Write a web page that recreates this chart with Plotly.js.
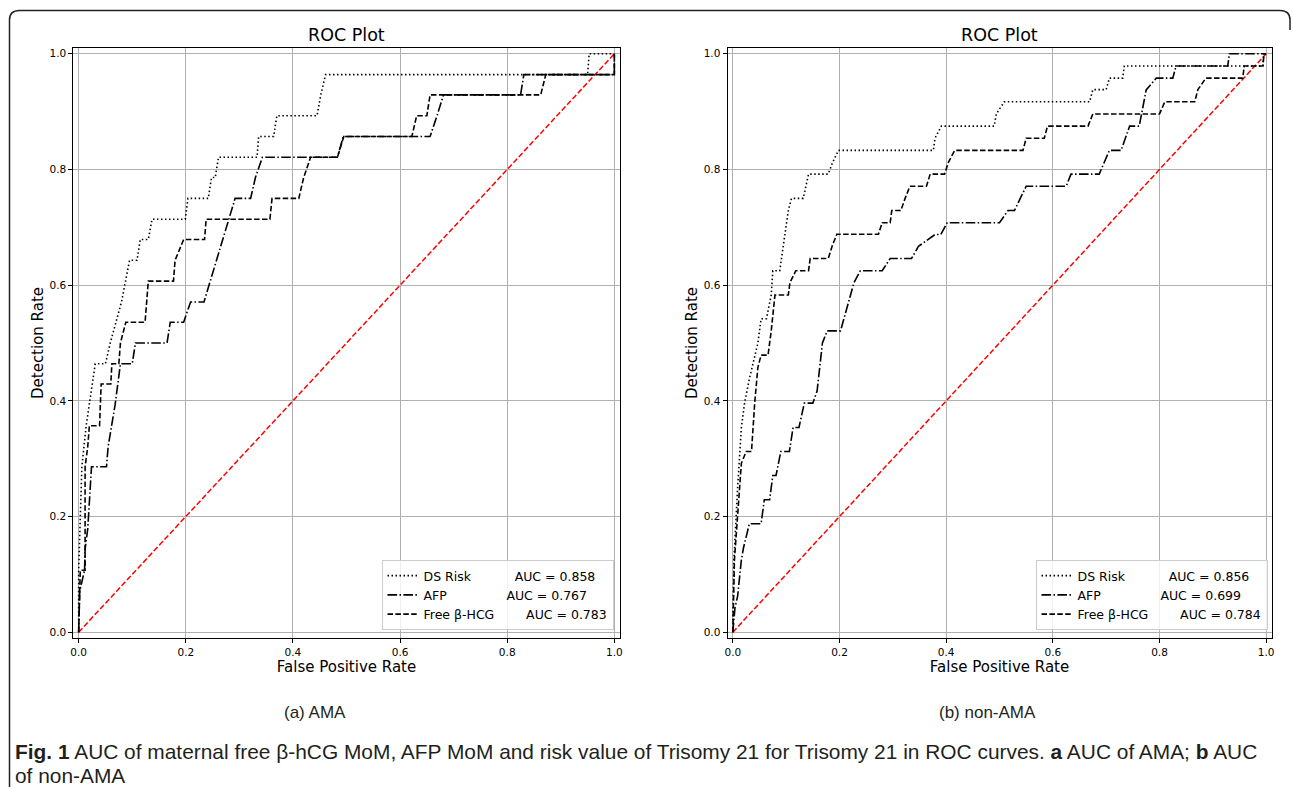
<!DOCTYPE html>
<html>
<head>
<meta charset="utf-8">
<script src="https://cdn.plot.ly/plotly-3.0.1.min.js"></script>
<style>
html,body{margin:0;padding:0;background:#ffffff;}
#chart{width:1292px;height:789px;}
</style>
</head>
<body>
<div id="chart"></div>
<script>
// ---------------- data ----------------
const seriesNames = ["DS Risk", "AFP", "Free β-HCG"];
const tickValues = [0, 0.2, 0.4, 0.6, 0.8, 1.0];
const tickLabels = ["0.0", "0.2", "0.4", "0.6", "0.8", "1.0"];
const panelLabels = ["(a) AMA", "(b) non-AMA"];
const aucAMA = ["0.858", "0.767", "0.783"];
const aucNonAMA = ["0.856", "0.699", "0.784"];
const chanceLine = [0, 1];

// (a) AMA
const amaDsFpr = [0, 0, 0.006, 0.014, 0.031, 0.050, 0.059, 0.080, 0.095, 0.109, 0.115, 0.130, 0.137, 0.199, 0.204, 0.242, 0.248, 0.255, 0.261, 0.333, 0.336, 0.364, 0.370, 0.445, 0.452, 0.461, 0.950, 0.953, 1.0];
const amaDsTpr = [0, 0.107, 0.286, 0.357, 0.464, 0.464, 0.500, 0.571, 0.643, 0.643, 0.679, 0.679, 0.714, 0.714, 0.750, 0.750, 0.786, 0.786, 0.821, 0.821, 0.857, 0.857, 0.893, 0.893, 0.929, 0.964, 0.964, 1.0, 1.0];

const amaAfpFpr = [0, 0.002, 0.011, 0.012, 0.017, 0.024, 0.052, 0.055, 0.068, 0.078, 0.100, 0.106, 0.165, 0.171, 0.196, 0.209, 0.234, 0.292, 0.321, 0.330, 0.343, 0.483, 0.494, 0.656, 0.669, 0.681, 0.825, 0.831, 1.0, 1.0];
const amaAfpTpr = [0, 0.071, 0.107, 0.143, 0.179, 0.286, 0.286, 0.321, 0.393, 0.464, 0.464, 0.500, 0.500, 0.536, 0.536, 0.571, 0.571, 0.750, 0.750, 0.786, 0.821, 0.821, 0.857, 0.857, 0.893, 0.929, 0.929, 0.964, 0.964, 1.0];

const amaHcgFpr = [0, 0.002, 0.003, 0.012, 0.012, 0.017, 0.020, 0.039, 0.042, 0.060, 0.062, 0.075, 0.078, 0.088, 0.124, 0.130, 0.177, 0.180, 0.196, 0.235, 0.238, 0.357, 0.361, 0.411, 0.420, 0.433, 0.483, 0.495, 0.622, 0.631, 0.650, 0.656, 0.8625, 0.872, 1.0, 1.0];
const amaHcgTpr = [0, 0.060, 0.107, 0.107, 0.286, 0.321, 0.357, 0.357, 0.429, 0.429, 0.464, 0.464, 0.500, 0.536, 0.536, 0.607, 0.607, 0.643, 0.679, 0.679, 0.714, 0.714, 0.750, 0.750, 0.786, 0.821, 0.821, 0.857, 0.857, 0.893, 0.893, 0.929, 0.929, 0.964, 0.964, 1.0];

// (b) non-AMA
const nonDsFpr = [0, 0.002, 0.009, 0.016, 0.022, 0.031, 0.047, 0.053, 0.063, 0.072, 0.075, 0.088, 0.104, 0.110, 0.132, 0.142, 0.179, 0.187, 0.198, 0.376, 0.379, 0.391, 0.490, 0.494, 0.509, 0.669, 0.675, 0.700, 0.706, 0.731, 0.734, 0.994, 0.995, 1.0];
const nonDsTpr = [0, 0.125, 0.250, 0.354, 0.396, 0.438, 0.500, 0.542, 0.542, 0.583, 0.625, 0.625, 0.729, 0.750, 0.750, 0.792, 0.792, 0.812, 0.833, 0.833, 0.854, 0.875, 0.875, 0.896, 0.917, 0.917, 0.938, 0.938, 0.958, 0.958, 0.979, 0.979, 1.0, 1.0];

const nonAfpFpr = [0, 0.004, 0.009, 0.016, 0.020, 0.031, 0.053, 0.059, 0.069, 0.075, 0.081, 0.090, 0.106, 0.113, 0.124, 0.134, 0.150, 0.158, 0.168, 0.177, 0.202, 0.214, 0.227, 0.239, 0.280, 0.295, 0.335, 0.348, 0.379, 0.390, 0.402, 0.500, 0.516, 0.528, 0.550, 0.625, 0.634, 0.687, 0.706, 0.728, 0.744, 0.762, 0.775, 0.794, 0.825, 0.831, 0.928, 0.931, 1.0];
const nonAfpTpr = [0, 0.042, 0.0625, 0.125, 0.146, 0.1875, 0.1875, 0.229, 0.229, 0.271, 0.271, 0.3125, 0.3125, 0.354, 0.354, 0.396, 0.396, 0.417, 0.500, 0.521, 0.521, 0.5625, 0.604, 0.625, 0.625, 0.646, 0.646, 0.667, 0.6875, 0.6875, 0.708, 0.708, 0.729, 0.729, 0.771, 0.771, 0.792, 0.792, 0.833, 0.833, 0.875, 0.875, 0.9375, 0.958, 0.958, 0.979, 0.979, 1.0, 1.0];

const nonHcgFpr = [0, 0.003, 0.016, 0.025, 0.035, 0.041, 0.047, 0.053, 0.066, 0.072, 0.079, 0.104, 0.107, 0.118, 0.142, 0.145, 0.179, 0.186, 0.195, 0.273, 0.280, 0.295, 0.298, 0.315, 0.323, 0.332, 0.363, 0.370, 0.397, 0.404, 0.416, 0.544, 0.550, 0.584, 0.590, 0.666, 0.675, 0.800, 0.810, 0.866, 0.872, 0.887, 0.956, 0.959, 0.994, 0.996, 1.0];
const nonHcgTpr = [0, 0.125, 0.292, 0.3125, 0.3125, 0.396, 0.458, 0.479, 0.479, 0.521, 0.583, 0.583, 0.604, 0.625, 0.625, 0.646, 0.646, 0.667, 0.688, 0.688, 0.708, 0.708, 0.729, 0.729, 0.750, 0.771, 0.771, 0.792, 0.792, 0.812, 0.833, 0.833, 0.854, 0.854, 0.875, 0.875, 0.896, 0.896, 0.917, 0.917, 0.938, 0.958, 0.958, 0.979, 0.979, 1.0, 1.0];

// ---------------- styling ----------------
const W = 1292, H = 789;
const px = v => v / W;
const py = v => 1 - v / H;

const dashStyles = ["1.5px,2.5px", "9.6px,2.4px,1.5px,2.4px", "5.5px,2.4px"];
const legendPad = [11, 15, 8];
const nb = n => "\u00A0".repeat(n);
const legendName = (i, auc) => seriesNames[i] + nb(legendPad[i]) + "AUC = " + auc[i];

function curve(x, y, i, auc, xa, ya, lg) {
  return {
    type: "scatter", mode: "lines", x: x, y: y,
    name: legendName(i, auc), legend: lg,
    xaxis: xa, yaxis: ya,
    line: {color: "#000000", width: 1.6, dash: dashStyles[i]},
    hoverinfo: "skip"
  };
}
function diag(xa, ya) {
  return {
    type: "scatter", mode: "lines", x: chanceLine, y: chanceLine,
    xaxis: xa, yaxis: ya, showlegend: false,
    line: {color: "#ff0000", width: 1.5, dash: "5.5px,2.4px"},
    hoverinfo: "skip"
  };
}

const traces = [
  diag("x", "y"),
  curve(amaDsFpr, amaDsTpr, 0, aucAMA, "x", "y", "legend"),
  curve(amaAfpFpr, amaAfpTpr, 1, aucAMA, "x", "y", "legend"),
  curve(amaHcgFpr, amaHcgTpr, 2, aucAMA, "x", "y", "legend"),
  diag("x2", "y2"),
  curve(nonDsFpr, nonDsTpr, 0, aucNonAMA, "x2", "y2", "legend2"),
  curve(nonAfpFpr, nonAfpTpr, 1, aucNonAMA, "x2", "y2", "legend2"),
  curve(nonHcgFpr, nonHcgTpr, 2, aucNonAMA, "x2", "y2", "legend2")
];

const axFont = {family: "DejaVu Sans", size: 10.5, color: "#000000"};
function xAxis(domain, anchor) {
  return {
    domain: domain, anchor: anchor, range: [-0.01, 1.01],
    tickvals: tickValues, ticktext: tickLabels,
    ticks: "outside", ticklen: 4, tickwidth: 1, tickcolor: "#000000",
    tickfont: axFont,
    showline: true, linecolor: "#000000", linewidth: 1, mirror: true,
    showgrid: true, gridcolor: "#b0b0b0", gridwidth: 1,
    zeroline: false, fixedrange: true,
    title: {text: "False Positive Rate", font: {family: "DejaVu Sans", size: 15, color: "#000000"}, standoff: 0}
  };
}
function yAxis(domain, anchor) {
  return {
    domain: domain, anchor: anchor, range: [-0.01, 1.01],
    tickvals: tickValues, ticktext: tickLabels,
    ticks: "outside", ticklen: 4, tickwidth: 1, tickcolor: "#000000",
    tickfont: axFont,
    showline: true, linecolor: "#000000", linewidth: 1, mirror: true,
    showgrid: true, gridcolor: "#b0b0b0", gridwidth: 1,
    zeroline: false, fixedrange: true,
    title: {text: "Detection Rate", font: {family: "DejaVu Sans", size: 15, color: "#000000"}, standoff: 2}
  };
}

const yDom = [py(638), py(48)];
const legendCommon = {
  xanchor: "right", yanchor: "bottom",
  bgcolor: "rgba(255,255,255,0.8)", bordercolor: "#cccccc", borderwidth: 1,
  font: {family: "DejaVu Sans", size: 12.5, color: "#000000"},
  itemwidth: 31, tracegroupgap: 0
};

const capFamily = "'Liberation Sans', Arial, sans-serif";
const capFont = {family: capFamily, size: 20.9, color: "#231f20"};
const borderPath =
  "M " + px(9.5) + " " + py(787) +
  " L " + px(9.5) + " " + py(20) +
  " Q " + px(9.5) + " " + py(10.5) + " " + px(19.5) + " " + py(10.5) +
  " L " + px(1280) + " " + py(10.5) +
  " Q " + px(1290) + " " + py(10.5) + " " + px(1290) + " " + py(20) +
  " L " + px(1290) + " " + py(30);

const layout = {
  width: W, height: H,
  margin: {l: 0, r: 0, t: 0, b: 0},
  paper_bgcolor: "#ffffff", plot_bgcolor: "#ffffff",
  showlegend: true,
  xaxis: xAxis([px(73.3), px(619.7)], "y"),
  yaxis: yAxis(yDom, "x"),
  xaxis2: xAxis([px(727.5), px(1271.5)], "y2"),
  yaxis2: yAxis(yDom, "x2"),
  legend: Object.assign({x: px(613.5), y: py(630)}, legendCommon),
  legend2: Object.assign({x: px(1267.5), y: py(630)}, legendCommon),
  annotations: [
    {text: "ROC Plot", xref: "paper", yref: "paper", x: px(346.5), y: py(35), xanchor: "center", yanchor: "middle", showarrow: false, font: {family: "DejaVu Sans", size: 17.5, color: "#000000"}},
    {text: "ROC Plot", xref: "paper", yref: "paper", x: px(999.5), y: py(35), xanchor: "center", yanchor: "middle", showarrow: false, font: {family: "DejaVu Sans", size: 17.5, color: "#000000"}},
    {text: panelLabels[0], xref: "paper", yref: "paper", x: px(315), y: py(712), xanchor: "center", yanchor: "middle", showarrow: false, font: {family: capFamily, size: 17, color: "#231f20"}},
    {text: panelLabels[1], xref: "paper", yref: "paper", x: px(987), y: py(712), xanchor: "center", yanchor: "middle", showarrow: false, font: {family: capFamily, size: 17, color: "#231f20"}},
    {text: "<b>Fig. 1</b> AUC of maternal free β-hCG MoM, AFP MoM and risk value of Trisomy 21 for Trisomy 21 in ROC curves. <b>a</b> AUC of AMA; <b>b</b> AUC", xref: "paper", yref: "paper", x: px(13), y: py(751), xanchor: "left", yanchor: "middle", showarrow: false, font: capFont},
    {text: "of non-AMA", xref: "paper", yref: "paper", x: px(13), y: py(775), xanchor: "left", yanchor: "middle", showarrow: false, font: capFont}
  ],
  shapes: [
    {type: "path", xref: "paper", yref: "paper", path: borderPath, line: {color: "#222222", width: 1.5}, fillcolor: "rgba(0,0,0,0)", layer: "above"}
  ]
};

Plotly.newPlot("chart", traces, layout, {staticPlot: true, displayModeBar: false});
</script>
</body>
</html>
